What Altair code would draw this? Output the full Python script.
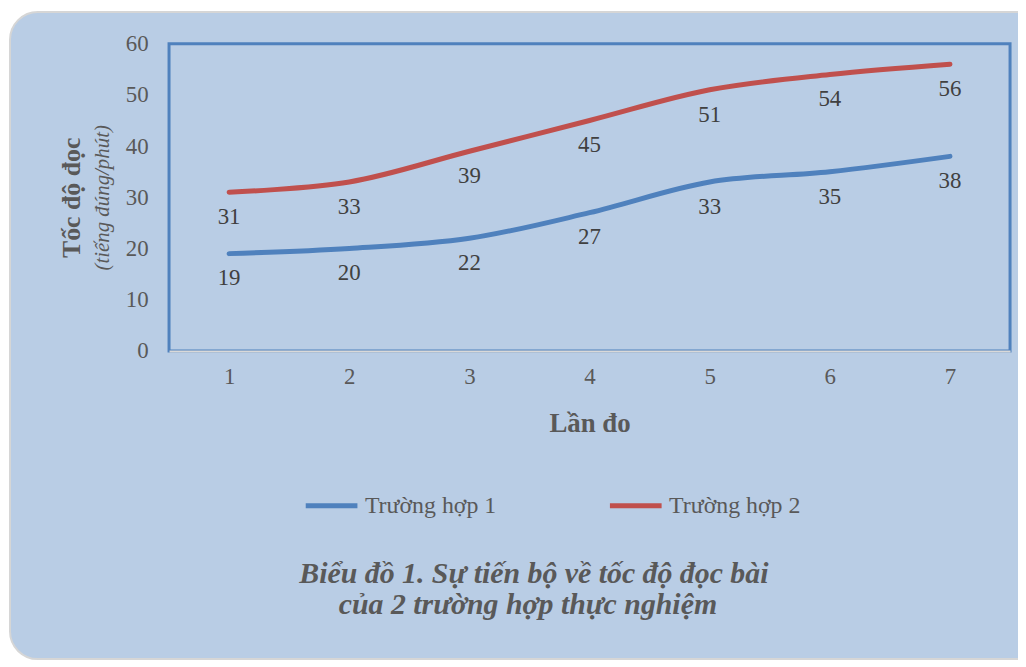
import altair as alt
import pandas as pd

lan_do = [1, 2, 3, 4, 5, 6, 7]
truong_hop_1 = [19, 20, 22, 27, 33, 35, 38]
truong_hop_2 = [31, 33, 39, 45, 51, 54, 56]
series_names = ["Trường hợp 1", "Trường hợp 2"]
series_colors = ["#4f81bd", "#c0504d"]
caption_lines = ["Biểu đồ 1. Sự tiến bộ về tốc độ đọc bài", "của 2 trường hợp thực nghiệm"]

rows = []
for name, vals in zip(series_names, [truong_hop_1, truong_hop_2]):
    for x, v in zip(lan_do, vals):
        rows.append({"Lần đo": x, "value": v, "series": name})
df = pd.DataFrame(rows)

SERIF = "Liberation Serif"
GREY = "#595959"
W, H = 846, 309

panel = alt.Chart(pd.DataFrame({"a": [0]})).mark_rect(
    cornerRadius=28, fill="#b9cde5", stroke="#d6d6d6", strokeWidth=2
).encode(x=alt.value(-160), x2=alt.value(W + 60), y=alt.value(-32), y2=alt.value(619))

frame = alt.Chart(pd.DataFrame({"a": [0]})).mark_rect(
    filled=False, stroke="#4f81bd", strokeWidth=3
).encode(x=alt.value(0), x2=alt.value(W), y=alt.value(0), y2=alt.value(H))

x_enc = alt.X(
    "Lần đo:O",
    title="Lần đo",
    axis=alt.Axis(
        labelAngle=0, labelFont=SERIF, labelFontSize=23, labelColor=GREY,
        labelPadding=15, ticks=False, domainColor="#d9d9d9", domainWidth=2,
        titleFont=SERIF, titleFontSize=27, titleFontWeight="bold", titleColor=GREY,
        titlePadding=22, zindex=1,
    ),
)
y_enc = alt.Y(
    "value:Q",
    title=None,
    scale=alt.Scale(domain=[0, 60]),
    axis=alt.Axis(
        values=[0, 10, 20, 30, 40, 50, 60], labelFont=SERIF, labelFontSize=23,
        labelColor=GREY, labelPadding=21, ticks=False, domain=False, grid=False,
        zindex=1,
    ),
)

lines = alt.Chart(df).mark_line(interpolate="catmull-rom", strokeWidth=5, strokeCap="round").encode(
    x=x_enc,
    y=y_enc,
    color=alt.Color(
        "series:N",
        scale=alt.Scale(domain=series_names, range=series_colors),
        legend=alt.Legend(
            title=None, orient="none", direction="horizontal", legendX=135, legendY=436,
            symbolType="stroke", symbolSize=2704, symbolStrokeWidth=5,
            labelFont=SERIF, labelFontSize=24, labelColor=GREY, labelOffset=5,
            columnPadding=103,
        ),
    ),
)

labels = alt.Chart(df).mark_text(
    dy=25, fontSize=23, font=SERIF, color="#404040", baseline="middle"
).encode(x="Lần đo:O", y="value:Q", text="value:Q")

ytitle = alt.Chart(pd.DataFrame({"t": ["Tốc độ đọc"]})).mark_text(
    angle=270, font=SERIF, fontSize=26, fontWeight="bold", color=GREY, baseline="middle"
).encode(x=alt.value(-98), y=alt.value(155), text="t:N")

ysub = alt.Chart(pd.DataFrame({"t": ["(tiếng đúng/phút)"]})).mark_text(
    angle=270, font=SERIF, fontSize=21, fontStyle="italic", color=GREY, baseline="middle"
).encode(x=alt.value(-66), y=alt.value(155), text="t:N")

cap1 = alt.Chart(pd.DataFrame({"t": [caption_lines[0]]})).mark_text(
    font=SERIF, fontSize=30, fontStyle="italic", fontWeight="bold", color=GREY, baseline="middle"
).encode(x=alt.value(367), y=alt.value(533), text="t:N")

cap2 = alt.Chart(pd.DataFrame({"t": [caption_lines[1]]})).mark_text(
    font=SERIF, fontSize=30, fontStyle="italic", fontWeight="bold", color=GREY, baseline="middle"
).encode(x=alt.value(361), y=alt.value(565), text="t:N")

chart = alt.layer(panel, frame, lines, labels, ytitle, ysub, cap1, cap2).properties(
    width=W,
    height=H,
    autosize=alt.AutoSizeParams(type="none"),
    padding={"left": 162, "top": 34, "right": 8, "bottom": 313},
).configure(background="white").configure_view(stroke=None)

chart.save("out.html", embed_options={"renderer": "svg", "actions": False})
